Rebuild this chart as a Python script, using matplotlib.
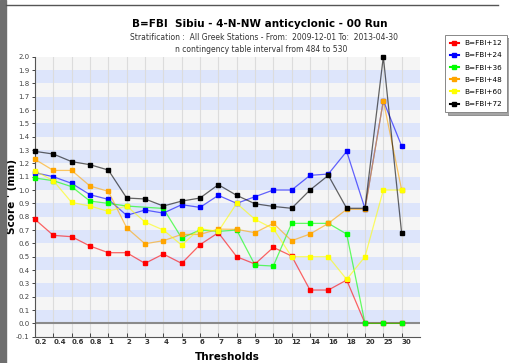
import matplotlib
matplotlib.use("Agg")
import matplotlib.pyplot as plt
import numpy as np
from matplotlib.patches import Rectangle
from matplotlib.lines import Line2D

# thresholds (categorical x axis)
thresholds = ["0.2", "0.4", "0.6", "0.8", "1", "2", "3", "4", "5", "6", "7",
              "8", "9", "10", "12", "14", "16", "18", "20", "25", "30"]

# scores (None = no point)
fbi12 = [0.78, 0.66, 0.65, 0.58, 0.53, 0.53, 0.45, 0.52, 0.45, 0.59, 0.68,
         0.50, 0.445, 0.57, 0.505, 0.25, 0.25, 0.325, 0.0, 0.0, 0.0]
fbi24 = [1.13, 1.10, 1.05, 0.965, 0.93, 0.81, 0.85, 0.827, 0.89, 0.87, 0.96,
         0.90, 0.95, 1.0, 1.0, 1.11, 1.12, 1.29, 0.86, 1.67, 1.33]
fbi36 = [1.09, 1.07, 1.025, 0.917, 0.90, 0.88, None, 0.862, 0.64, 0.70, 0.69,
         0.70, 0.437, 0.43, 0.75, 0.75, 0.75, 0.67, 0.0, 0.0, 0.0]
fbi48 = [1.23, 1.147, 1.147, 1.03, 0.99, 0.717, 0.597, 0.62, 0.667, 0.667, 0.707,
         0.705, 0.68, 0.75, 0.62, 0.67, 0.75, 0.855, 0.855, 1.67, 1.0]
fbi60 = [1.143, 1.07, 0.907, 0.88, 0.84, 0.88, 0.76, 0.70, 0.587, 0.71, 0.69,
         0.90, 0.78, 0.71, 0.50, 0.50, 0.50, 0.33, 0.50, 1.0, 1.0]
fbi72 = [1.29, 1.27, 1.213, 1.19, 1.15, 0.94, 0.933, 0.88, 0.917, 0.94, 1.04,
         0.96, 0.897, 0.877, 0.863, 1.0, 1.11, 0.863, 0.863, 2.0, 0.675]

series = [("B=FBI+12", fbi12, "#ff0000"),
          ("B=FBI+24", fbi24, "#0000ff"),
          ("B=FBI+36", fbi36, "#00ff00"),
          ("B=FBI+48", fbi48, "#ffa500"),
          ("B=FBI+60", fbi60, "#ffff00"),
          ("B=FBI+72", fbi72, "#000000")]

fig = plt.figure(figsize=(5.09, 3.63), dpi=100)
ax = fig.add_axes([35 / 509, 1 - 336.7 / 363, 385 / 509, 280 / 363])

# window frame bits
fig.patches.append(Rectangle((0, 0), 6 / 509, 1, transform=fig.transFigure,
                             color="#6e6e6e", zorder=0))
fig.lines.append(Line2D([6 / 509, 498 / 509], [1 - 5 / 363, 1 - 5 / 363],
                        transform=fig.transFigure, color="#555555", lw=1))

# striped background
ax.set_facecolor("#f5f5f5")
for k in range(10):
    ax.axhspan(0.2 * k, 0.2 * k + 0.1, color="#dde5fb", lw=0, zorder=0)
x = np.arange(len(thresholds))
for xi in x:
    ax.axvline(xi, color="#dcdcdc", lw=0.8, zorder=0.5)
ax.axhline(0, color="#8a8a8a", lw=1.5, zorder=0.6)

for name, vals, col in series:
    xs = [xi for xi, v in zip(x, vals) if v is not None]
    ys = [v for v in vals if v is not None]
    ax.plot(xs, ys, color=col, lw=0.9, alpha=0.6, zorder=2, clip_on=False)
    ax.plot(xs, ys, ls="none", marker="s", ms=2.6, color=col, zorder=3,
            clip_on=False, label=name)

ax.set_xlim(0, 21)
ax.set_ylim(-0.1, 2.0)
ax.set_yticks(np.round(np.arange(-0.1, 2.01, 0.1), 1))
ax.set_yticklabels(["%.1f" % v for v in np.arange(-0.1, 2.01, 0.1)],
                   fontsize=5, color="#444444")
ax.set_xticks(x)
ax.set_xticklabels(thresholds, fontsize=5, fontweight="bold", ha="left",
                   color="#333333")
ax.tick_params(axis="x", direction="in", length=3, width=0.7, color="#444444", pad=2)
ax.tick_params(axis="y", direction="out", length=2.5, width=0.7, color="#444444", pad=1.5)

for s in ["top", "right"]:
    ax.spines[s].set_visible(False)
for s in ["left", "bottom"]:
    ax.spines[s].set_color("#555555")
    ax.spines[s].set_linewidth(0.8)

ax.set_xlabel("Thresholds", fontsize=7.5, fontweight="bold", labelpad=5)
ax.set_ylabel("Score ' (mm)", fontsize=7.5, fontweight="bold")
ax.yaxis.set_label_coords(-18 / 385, 0.5)

fig.text(260 / 509, 1 - 24 / 363, "B=FBI  Sibiu - 4-N-NW anticyclonic - 00 Run",
         ha="center", va="center", fontsize=7.5, fontweight="bold")
fig.text(264 / 509, 1 - 37 / 363,
         "Stratification :  All Greek Stations - From:  2009-12-01 To:  2013-04-30",
         ha="center", va="center", fontsize=5.5, color="#333333")
fig.text(261 / 509, 1 - 50 / 363, "n contingency table interval from 484 to 530",
         ha="center", va="center", fontsize=5.5, color="#333333")

leg = fig.legend(loc="upper left", bbox_to_anchor=(445 / 509, 1 - 35 / 363),
                 fontsize=5.2, frameon=True, fancybox=False, shadow=True,
                 borderpad=0.7, labelspacing=0.85, handlelength=1.2,
                 handletextpad=0.7, borderaxespad=0, markerscale=1.3)
leg.get_frame().set_edgecolor("#888888")
leg.get_frame().set_linewidth(0.7)
for h, (name, vals, col) in zip(leg.legend_handles, series):
    h.set_linestyle("-")
    h.set_color(col)

fig.savefig("out.png", dpi=100)
